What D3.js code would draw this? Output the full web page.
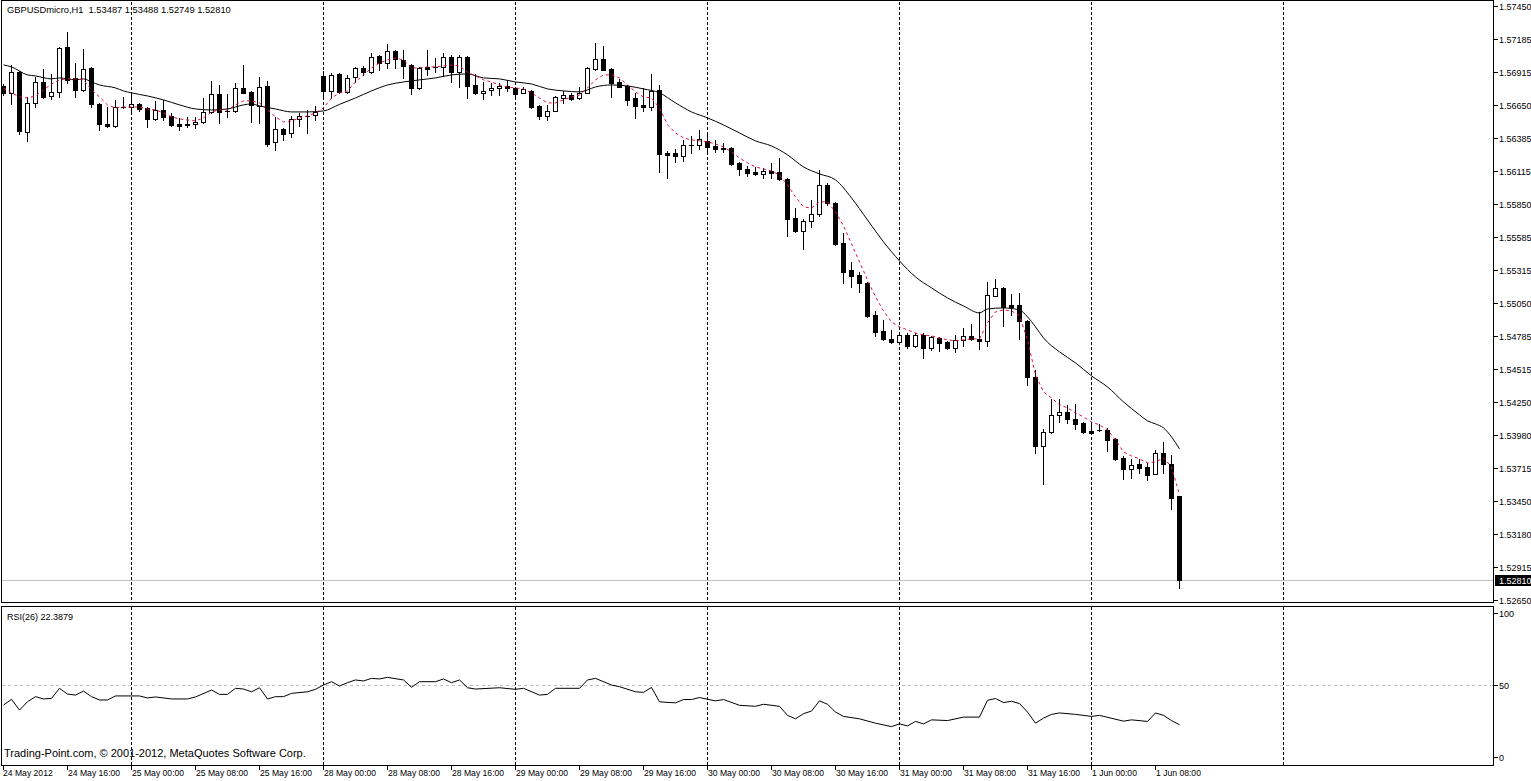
<!DOCTYPE html>
<html><head><meta charset="utf-8">
<script src="https://cdn.jsdelivr.net/npm/d3@7"></script>
<style>
body{margin:0;background:#fff}
svg{display:block}
text{font-family:"Liberation Sans",Arial,sans-serif;fill:#000}
</style></head>
<body><svg id="c" width="1531" height="781"></svg>
<script>
// ---------- DATA ----------
const symbol = "GBPUSDmicro,H1";
const rsiTitle = "RSI(26) 22.3879";
const copyright = "Trading-Point.com, \u00A9 2001-2012, MetaQuotes Software Corp.";

const open = [1.56804,1.56748,1.56917,1.56432,1.56667,1.56836,1.56723,1.56756,1.57119,1.56869,
1.56772,1.56950,1.56659,1.56497,1.56481,1.56634,1.56634,1.56659,1.56626,1.56537,
1.56610,1.56562,1.56497,1.56497,1.56497,1.56513,1.56594,1.56739,1.56602,1.56602,
1.56788,1.56756,1.56643,1.56804,1.56352,1.56457,1.56424,1.56537,1.56562,1.56570,
1.56885,1.56764,1.56901,1.56756,1.56877,1.56950,1.56917,1.57046,1.56990,1.57087,
1.57014,1.56974,1.56788,1.56958,1.56958,1.56958,1.57038,1.56917,1.57038,1.56812,
1.56748,1.56772,1.56788,1.56804,1.56788,1.56748,1.56764,1.56643,1.56562,1.56602,
1.56707,1.56731,1.56707,1.56748,1.56942,1.57022,1.56942,1.56836,1.56804,1.56707,
1.56651,1.56634,1.56772,1.56263,1.56263,1.56239,1.56328,1.56328,1.56360,1.56319,
1.56303,1.56303,1.56182,1.56133,1.56109,1.56093,1.56117,1.56109,1.56053,1.55738,
1.55633,1.55713,1.55770,1.56004,1.55859,1.55535,1.55317,1.55277,1.55212,1.54954,
1.54825,1.54760,1.54736,1.54793,1.54703,1.54793,1.54687,1.54768,1.54736,1.54687,
1.54752,1.54784,1.54760,1.54744,1.55107,1.55172,1.55035,1.55035,1.54905,1.54453,
1.53895,1.54008,1.54146,1.54170,1.54114,1.54081,1.54016,1.54025,1.54025,1.53952,
1.53798,1.53709,1.53750,1.53725,1.53669,1.53839,1.53750,1.53487];

const high = [1.56820,1.56974,1.56925,1.56715,1.56877,1.56942,1.56901,1.57119,1.57240,1.56990,
1.57103,1.56958,1.56667,1.56634,1.56691,1.56715,1.56748,1.56667,1.56634,1.56683,
1.56691,1.56586,1.56546,1.56554,1.56554,1.56707,1.56844,1.56812,1.56739,1.56828,
1.56974,1.56764,1.56877,1.56844,1.56554,1.56465,1.56562,1.56586,1.56610,1.56643,
1.56925,1.56909,1.56909,1.56893,1.56958,1.56966,1.57071,1.57055,1.57143,1.57095,
1.57095,1.56982,1.56958,1.57095,1.57030,1.57071,1.57055,1.57055,1.57046,1.56901,
1.56836,1.56828,1.56828,1.56853,1.56796,1.56796,1.56772,1.56651,1.56651,1.56723,
1.56764,1.56748,1.56796,1.56958,1.57152,1.57127,1.56950,1.56861,1.56812,1.56748,
1.56788,1.56901,1.56812,1.56279,1.56295,1.56368,1.56400,1.56449,1.56424,1.56368,
1.56344,1.56311,1.56190,1.56158,1.56150,1.56141,1.56182,1.56222,1.56061,1.55818,
1.55730,1.55883,1.56125,1.56020,1.55867,1.55616,1.55382,1.55301,1.55220,1.54986,
1.54913,1.54833,1.54808,1.54808,1.54808,1.54808,1.54784,1.54776,1.54744,1.54792,
1.54849,1.54881,1.54978,1.55220,1.55245,1.55180,1.55123,1.55131,1.54913,1.54509,
1.54033,1.54275,1.54275,1.54227,1.54235,1.54089,1.54089,1.54073,1.54041,1.53960,
1.53814,1.53790,1.53790,1.53758,1.53863,1.53928,1.53823,1.53488];

const low = [1.56731,1.56659,1.56416,1.56360,1.56634,1.56707,1.56699,1.56715,1.56828,1.56715,
1.56764,1.56634,1.56449,1.56473,1.56473,1.56626,1.56594,1.56602,1.56473,1.56529,
1.56529,1.56481,1.56449,1.56473,1.56465,1.56505,1.56586,1.56505,1.56554,1.56594,
1.56744,1.56513,1.56505,1.56319,1.56287,1.56368,1.56392,1.56481,1.56424,1.56529,
1.56699,1.56707,1.56748,1.56748,1.56836,1.56893,1.56909,1.56933,1.56950,1.56950,
1.56869,1.56739,1.56780,1.56893,1.56917,1.56885,1.56836,1.56796,1.56707,1.56739,
1.56699,1.56731,1.56731,1.56764,1.56723,1.56744,1.56626,1.56537,1.56529,1.56598,
1.56667,1.56691,1.56699,1.56744,1.56933,1.56929,1.56715,1.56792,1.56651,1.56546,
1.56602,1.56610,1.56109,1.56061,1.56190,1.56198,1.56263,1.56295,1.56263,1.56271,
1.56271,1.56166,1.56085,1.56077,1.56085,1.56061,1.56061,1.56045,1.55592,1.55624,
1.55487,1.55665,1.55754,1.55843,1.55519,1.55212,1.55180,1.55140,1.54938,1.54784,
1.54752,1.54728,1.54728,1.54687,1.54695,1.54606,1.54671,1.54663,1.54679,1.54655,
1.54703,1.54752,1.54679,1.54703,1.55103,1.54865,1.54954,1.54760,1.54388,1.53839,
1.53588,1.54000,1.54089,1.54081,1.54033,1.54000,1.53996,1.54016,1.53855,1.53782,
1.53629,1.53637,1.53677,1.53621,1.53665,1.53677,1.53386,1.52749];

const close = [1.56748,1.56917,1.56441,1.56667,1.56836,1.56715,1.56756,1.57111,1.56853,1.56772,
1.56942,1.56659,1.56497,1.56481,1.56634,1.56630,1.56659,1.56618,1.56537,1.56610,
1.56554,1.56489,1.56481,1.56485,1.56513,1.56594,1.56739,1.56594,1.56600,1.56788,
1.56748,1.56651,1.56796,1.56335,1.56457,1.56416,1.56537,1.56562,1.56558,1.56594,
1.56764,1.56893,1.56756,1.56869,1.56950,1.56917,1.57038,1.56990,1.57087,1.57022,
1.56966,1.56788,1.56950,1.56942,1.56954,1.57038,1.56917,1.57038,1.56804,1.56748,
1.56764,1.56788,1.56804,1.56788,1.56739,1.56780,1.56634,1.56562,1.56602,1.56715,
1.56731,1.56699,1.56748,1.56950,1.57022,1.56933,1.56828,1.56796,1.56691,1.56643,
1.56634,1.56764,1.56255,1.56247,1.56239,1.56328,1.56325,1.56376,1.56311,1.56295,
1.56295,1.56174,1.56133,1.56101,1.56093,1.56117,1.56101,1.56053,1.55730,1.55633,
1.55713,1.55770,1.56004,1.55859,1.55527,1.55301,1.55269,1.55212,1.54946,1.54817,
1.54760,1.54736,1.54793,1.54703,1.54793,1.54687,1.54776,1.54728,1.54687,1.54752,
1.54784,1.54760,1.54744,1.55115,1.55172,1.55018,1.55018,1.54905,1.54453,1.53895,
1.54008,1.54146,1.54170,1.54114,1.54073,1.54008,1.54000,1.54020,1.53944,1.53790,
1.53709,1.53742,1.53717,1.53661,1.53839,1.53750,1.53475,1.52810];

// slow moving average (solid black), sampled at bar numbers
const maSlowBars = [0,1,3,4,6,7,9,10,11,12,14,15,16,18,20,22,24,26,28,30,31,32,34,36,38,40,42,44,46,48,50,52,54,56,58,60,62,64,66,68,70,72,73,74,76,78,80,82,84,86,88,90,92,94,96,98,100,102,104,106,108,110,112,114,116,118,120,122,123,125,127,128,129,130,132,134,136,138,140,142,143,144,145,146,147];
const maSlowValues = [1.56974,1.56958,1.56893,1.56885,1.56861,1.56869,1.56853,1.56861,1.56836,1.56812,1.56788,1.56764,1.56748,1.56723,1.56691,1.56651,1.56618,1.56610,1.56618,1.56651,1.56659,1.56643,1.56618,1.56594,1.56594,1.56602,1.56655,1.56707,1.56764,1.56812,1.56836,1.56853,1.56869,1.56893,1.56901,1.56869,1.56861,1.56836,1.56820,1.56780,1.56764,1.56756,1.56772,1.56796,1.56812,1.56804,1.56780,1.56748,1.56667,1.56594,1.56546,1.56489,1.56424,1.56360,1.56319,1.56247,1.56150,1.56093,1.56045,1.55899,1.55721,1.55544,1.55390,1.55261,1.55172,1.55091,1.55026,1.54970,1.55002,1.55010,1.54994,1.54938,1.54857,1.54768,1.54655,1.54566,1.54461,1.54372,1.54251,1.54146,1.54098,1.54073,1.54041,1.53968,1.53871];

// fast moving average (red dashed), one value per bar
const maFastValues = [1.56788,1.56748,1.56715,1.56707,1.56723,1.56772,1.56820,1.56853,1.56861,1.56861,
1.56853,1.56772,1.56715,1.56651,1.56626,1.56634,1.56634,1.56634,1.56618,1.56610,
1.56586,1.56554,1.56537,1.56529,1.56521,1.56546,1.56594,1.56610,1.56610,1.56651,
1.56683,1.56683,1.56667,1.56610,1.56554,1.56513,1.56521,1.56546,1.56562,1.56586,
1.56626,1.56707,1.56748,1.56764,1.56836,1.56893,1.56950,1.56990,1.57014,1.57030,
1.57014,1.56950,1.56950,1.56958,1.56958,1.56966,1.56974,1.56966,1.56917,1.56885,
1.56853,1.56836,1.56812,1.56796,1.56788,1.56780,1.56748,1.56707,1.56667,1.56667,
1.56691,1.56715,1.56731,1.56788,1.56853,1.56893,1.56893,1.56869,1.56812,1.56756,
1.56715,1.56707,1.56626,1.56489,1.56424,1.56384,1.56368,1.56360,1.56352,1.56335,
1.56311,1.56271,1.56222,1.56182,1.56150,1.56133,1.56117,1.56085,1.56004,1.55907,
1.55826,1.55818,1.55867,1.55867,1.55786,1.55673,1.55528,1.55382,1.55237,1.55099,
1.54986,1.54897,1.54857,1.54833,1.54808,1.54792,1.54784,1.54768,1.54752,1.54744,
1.54752,1.54760,1.54760,1.54889,1.54978,1.54994,1.54986,1.54946,1.54752,1.54469,
1.54332,1.54283,1.54227,1.54203,1.54162,1.54130,1.54089,1.54065,1.54025,1.53944,
1.53847,1.53814,1.53790,1.53758,1.53766,1.53798,1.53726,1.53500];

// RSI(26), sampled at bar numbers
const rsiBars = [0,1,2,3,4,5,6,7,8,9,10,11,12,13,14,16,17,18,19,21,23,24,26,27,28,29,30,31,32,33,34,35,36,38,39,40,41,42,43,44,45,46,47,48,50,51,52,54,55,56,57,58,59,62,64,65,67,68,69,72,73,74,76,77,79,80,81,82,84,85,86,87,88,89,90,92,94,95,97,98,99,100,101,102,103,104,105,107,109,111,112,113,114,115,116,118,120,122,123,124,125,126,127,128,129,130,131,132,134,136,137,140,141,143,144,145,146,147];
const rsiValues = [36.1,40,32.6,38.4,41.9,40.3,40.7,47.7,43.7,43,45.8,41.9,39.6,39.6,42.4,42.4,42.4,41,41.7,40.3,40.3,41.7,46.5,43.5,43.5,47.7,47.2,45.3,48.1,40.3,41.9,41.9,44.2,45.3,47,50,52.3,49.3,51.6,53.5,52.8,54.6,54.2,55.3,53.5,48.4,52.3,52.3,54.2,51.6,53.5,48.1,47.2,48.1,47,47.7,43,43.5,47.7,47.7,53.5,54.6,50,48.8,45.3,44.9,48.3,38.3,37.6,39.9,39.9,41.3,40.1,39,39.9,35.9,35.2,36.6,35.2,28.9,26.5,30.1,31.9,39,36.6,31.2,28.2,26.5,23.5,21.1,23,21.6,24.7,23,25.8,25.3,27.7,27.7,39.4,40.6,37.8,38.7,37.1,31.2,23.5,27,29.6,30.6,29.6,28.2,28.9,24.9,25.8,24.7,30.6,28.9,25.3,22.39];

// time axis labels (one every 8 hourly bars) and day separators (bar numbers)
const timeLabels = ["24 May 2012","24 May 16:00","25 May 00:00","25 May 08:00","25 May 16:00","28 May 00:00","28 May 08:00","28 May 16:00","29 May 00:00","29 May 08:00","29 May 16:00","30 May 00:00","30 May 08:00","30 May 16:00","31 May 00:00","31 May 08:00","31 May 16:00","1 Jun 00:00","1 Jun 08:00"];
const daySeparatorBars = [16,40,64,88,112,136,160];

const priceTickLabels = ["1.57450","1.57185","1.56915","1.56650","1.56385","1.56115","1.55850","1.55585","1.55315","1.55050","1.54785","1.54515","1.54250","1.53980","1.53715","1.53450","1.53180","1.52915","1.52650"];
const rsiTickLabels = ["100","50","0"];
const rsiLevel = 50;

// ---------- DRAWING ----------
const W = 1531, H = 781;
const svg = d3.select('#c');
svg.append('rect').attr('width', W).attr('height', H).attr('fill', '#fff');

const n = close.length;
const x = d3.scaleLinear().domain([0, 186.25]).range([3, 1493]);
const y = d3.scaleLinear().domain([1.5265, 1.5745]).range([600, 6]);
const yR = d3.scaleLinear().domain([0, 100]).range([757, 613]);
const px = i => Math.round(x(i));
const py = v => Math.round(y(v));

const MAIN_TOP = 0.5, MAIN_BOT = 602.5, RSI_TOP = 606.5, RSI_BOT = 765.5, LEFT = 1.5, RIGHT = 1493.5;

// day separators
const g0 = svg.append('g').attr('shape-rendering', 'crispEdges');
daySeparatorBars.forEach(b => {
  const xx = px(b) + 0.5;
  g0.append('line').attr('x1', xx).attr('x2', xx).attr('y1', MAIN_TOP + 1).attr('y2', RSI_BOT)
    .attr('stroke', '#000').attr('stroke-dasharray', '3,2');
});

// last price line
const lastY = py(close[n - 1]) + 0.5;
g0.append('line').attr('x1', LEFT).attr('x2', RIGHT).attr('y1', lastY).attr('y2', lastY)
  .attr('stroke', '#c0c0c0');

// RSI level
const lvlY = Math.round(yR(rsiLevel)) + 0.5;
g0.append('line').attr('x1', LEFT).attr('x2', RIGHT).attr('y1', lvlY).attr('y2', lvlY)
  .attr('stroke', '#c0c0c0').attr('stroke-dasharray', '3,3');

// candles
const gc = svg.append('g').attr('shape-rendering', 'crispEdges');
for (let i = 0; i < n; i++) {
  const cx = px(i);
  const yo = py(open[i]), yc = py(close[i]), yh = py(high[i]), yl = py(low[i]);
  gc.append('line').attr('x1', cx + 0.5).attr('x2', cx + 0.5).attr('y1', yh).attr('y2', yl + 1)
    .attr('stroke', '#000');
  const top = Math.min(yo, yc), bot = Math.max(yo, yc);
  if (bot - top < 1) {
    gc.append('line').attr('x1', cx - 2).attr('x2', cx + 3).attr('y1', top + 0.5).attr('y2', top + 0.5)
      .attr('stroke', '#000');
  } else if (close[i] < open[i]) {
    gc.append('rect').attr('x', cx - 2).attr('y', top).attr('width', 5).attr('height', bot - top + 1)
      .attr('fill', '#000');
  } else {
    gc.append('rect').attr('x', cx - 1.5).attr('y', top + 0.5).attr('width', 4).attr('height', bot - top)
      .attr('fill', '#fff').attr('stroke', '#000');
  }
}

// moving averages
const slowPts = maSlowBars.map((b, k) => [x(b) + 0.5, y(maSlowValues[k])]);
svg.append('path').attr('d', d3.line().curve(d3.curveMonotoneX)(slowPts))
  .attr('fill', 'none').attr('stroke', '#000').attr('stroke-width', 1);
const fastPts = maFastValues.map((v, i) => [x(i) + 0.5, y(v)]);
svg.append('path').attr('d', d3.line()(fastPts))
  .attr('fill', 'none').attr('stroke', '#e0103c').attr('stroke-width', 1).attr('stroke-dasharray', '3,3');

// RSI line
const rsiPts = rsiBars.map((b, k) => [x(b) + 0.5, yR(rsiValues[k])]);
svg.append('path').attr('d', d3.line()(rsiPts))
  .attr('fill', 'none').attr('stroke', '#000').attr('stroke-width', 1);

// frames
const gf = svg.append('g').attr('shape-rendering', 'crispEdges').attr('fill', 'none').attr('stroke', '#000');
gf.append('rect').attr('x', LEFT).attr('y', MAIN_TOP).attr('width', RIGHT - LEFT).attr('height', MAIN_BOT - MAIN_TOP);
gf.append('rect').attr('x', LEFT).attr('y', RSI_TOP).attr('width', RIGHT - LEFT).attr('height', RSI_BOT - RSI_TOP);
// white gap between panels
svg.append('rect').attr('x', 0).attr('y', 603).attr('width', 1494).attr('height', 3).attr('fill', '#fff');

// price axis
const ga = svg.append('g');
priceTickLabels.forEach(lbl => {
  const yy = py(+lbl) + 0.5;
  ga.append('line').attr('x1', RIGHT).attr('x2', RIGHT + 4).attr('y1', yy).attr('y2', yy)
    .attr('stroke', '#000').attr('shape-rendering', 'crispEdges');
  ga.append('text').attr('x', 1499).attr('y', yy + 3.5).attr('font-size', 9).text(lbl);
});
// last price tag
const lastTxt = close[n - 1].toFixed(5);
ga.append('rect').attr('x', 1495).attr('y', lastY - 5.5).attr('width', 36).attr('height', 11).attr('fill', '#000');
ga.append('text').attr('x', 1499).attr('y', lastY + 3.5).attr('font-size', 9).style('fill', '#fff').text(lastTxt);

// RSI axis
rsiTickLabels.forEach(lbl => {
  const yy = Math.round(yR(+lbl)) + 0.5;
  ga.append('line').attr('x1', RIGHT).attr('x2', RIGHT + 4).attr('y1', yy).attr('y2', yy)
    .attr('stroke', '#000').attr('shape-rendering', 'crispEdges');
  ga.append('text').attr('x', 1499).attr('y', yy + 3.5).attr('font-size', 9).text(lbl);
});

// time axis
timeLabels.forEach((lbl, k) => {
  const b = k * 8, xx = px(b);
  ga.append('line').attr('x1', xx + 0.5).attr('x2', xx + 0.5).attr('y1', RSI_BOT).attr('y2', RSI_BOT + 4)
    .attr('stroke', '#000').attr('shape-rendering', 'crispEdges');
  ga.append('text').attr('x', k === 0 ? xx : xx + 1).attr('y', 776).attr('font-size', 8.6).text(lbl);
});

// titles
const header = symbol + "  " + [open[n-1], high[n-1], low[n-1], close[n-1]].map(v => v.toFixed(5)).join(' ');
svg.append('text').attr('x', 7).attr('y', 13).attr('font-size', 9.3).style('white-space', 'pre').text(header);
svg.append('text').attr('x', 7).attr('y', 620).attr('font-size', 9).text(rsiTitle);
svg.append('text').attr('x', 4).attr('y', 757).attr('font-size', 11).text(copyright);
</script></body></html>
